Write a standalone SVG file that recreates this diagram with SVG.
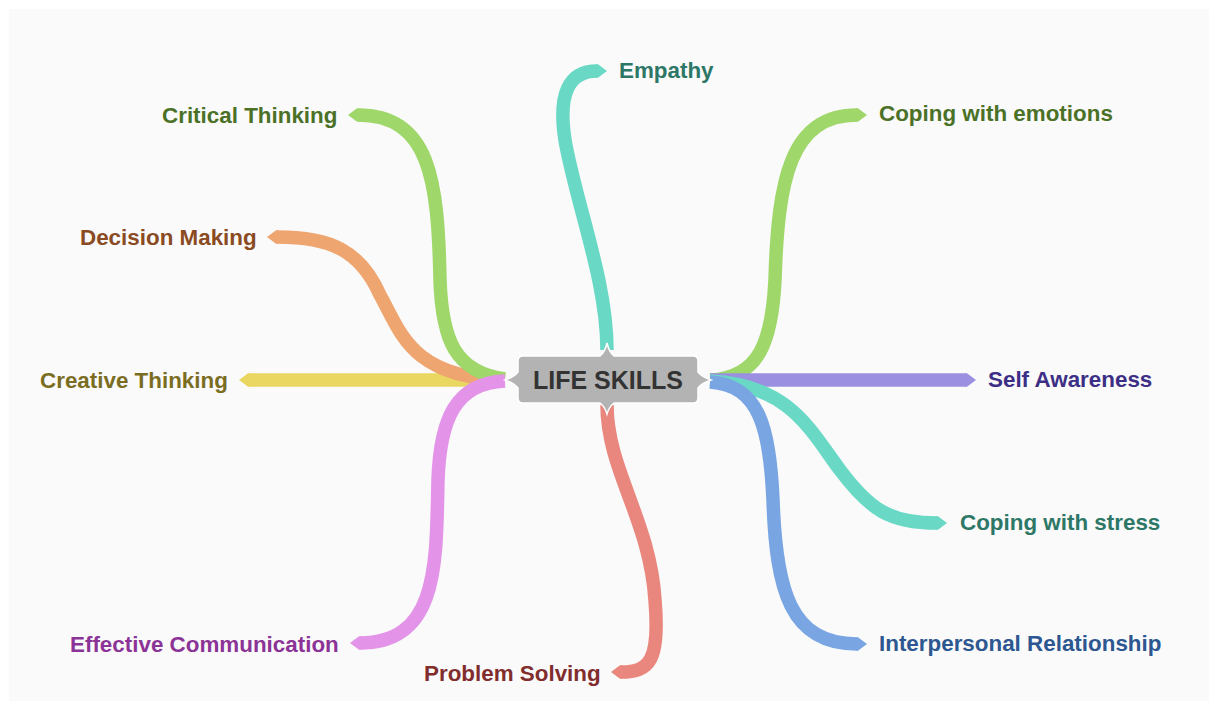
<svg xmlns="http://www.w3.org/2000/svg" width="1212" height="704" viewBox="0 0 1212 704">
<style>
.br{fill:none;stroke-width:13.5;stroke-linecap:butt;stroke-linejoin:round}
.lb{font-family:"Liberation Sans",Arial,Helvetica,sans-serif;font-weight:bold;font-size:22.4px}
</style>
<defs>
<marker id="tY" viewBox="0 0 12 14" markerWidth="12" markerHeight="14" refX="1" refY="7" orient="auto" markerUnits="userSpaceOnUse"><path d="M0,0.25H2L11,7L2,13.75H0Z" fill="#e9d761"/></marker>
<marker id="tO" viewBox="0 0 12 14" markerWidth="12" markerHeight="14" refX="1" refY="7" orient="auto" markerUnits="userSpaceOnUse"><path d="M0,0.25H2L11,7L2,13.75H0Z" fill="#efa56f"/></marker>
<marker id="tG" viewBox="0 0 12 14" markerWidth="12" markerHeight="14" refX="1" refY="7" orient="auto" markerUnits="userSpaceOnUse"><path d="M0,0.25H2L11,7L2,13.75H0Z" fill="#9fd76b"/></marker>
<marker id="tT" viewBox="0 0 12 14" markerWidth="12" markerHeight="14" refX="1" refY="7" orient="auto" markerUnits="userSpaceOnUse"><path d="M0,0.25H2L11,7L2,13.75H0Z" fill="#69d9c5"/></marker>
<marker id="tP" viewBox="0 0 12 14" markerWidth="12" markerHeight="14" refX="1" refY="7" orient="auto" markerUnits="userSpaceOnUse"><path d="M0,0.25H2L11,7L2,13.75H0Z" fill="#e394e9"/></marker>
<marker id="tR" viewBox="0 0 12 14" markerWidth="12" markerHeight="14" refX="1" refY="7" orient="auto" markerUnits="userSpaceOnUse"><path d="M0,0.25H2L11,7L2,13.75H0Z" fill="#e9877e"/></marker>
<marker id="tV" viewBox="0 0 12 14" markerWidth="12" markerHeight="14" refX="1" refY="7" orient="auto" markerUnits="userSpaceOnUse"><path d="M0,0.25H2L11,7L2,13.75H0Z" fill="#9b8fe2"/></marker>
<marker id="tB" viewBox="0 0 12 14" markerWidth="12" markerHeight="14" refX="1" refY="7" orient="auto" markerUnits="userSpaceOnUse"><path d="M0,0.25H2L11,7L2,13.75H0Z" fill="#79a5e3"/></marker>
</defs>
<rect x="0" y="0" width="1212" height="704" fill="#ffffff"/>
<rect x="9" y="9" width="1200" height="692" fill="#fafafa"/>
<g id="connectors">
<path class="br" stroke="#e9d761" marker-end="url(#tY)" d="M505 380 L249 380"/>
<path class="br" stroke="#efa56f" marker-end="url(#tO)" d="M505 380 C410 378,400 330,380 295 C360 250,330 237,277 237"/>
<path class="br" stroke="#9fd76b" marker-end="url(#tG)" d="M505 379 C455 372,442 340,440 280 C438 180,430 115,358 115"/>
<path class="br" stroke="#e394e9" marker-end="url(#tP)" d="M505 381 C455 383,440 420,438 480 C436 560,440 643,360 643"/>
<path class="br" stroke="#e9877e" marker-end="url(#tR)" d="M607 405 C607 470,650 520,655 600 C660 660,650 672,621 672"/>
<path class="br" stroke="#69d9c5" marker-end="url(#tT)" d="M607 350 C607 280,575 200,565 140 C558 95,568 71,597 71"/>
<path class="br" stroke="#9fd76b" marker-end="url(#tG)" d="M710 380 C760 378,772 340,775 280 C778 180,790 115,857 115"/>
<path class="br" stroke="#9b8fe2" marker-end="url(#tV)" d="M710 380 L966 380"/>
<path class="br" stroke="#69d9c5" marker-end="url(#tT)" d="M710 381 C790 385,810 430,840 470 C870 510,890 523,937 523"/>
<path class="br" stroke="#79a5e3" marker-end="url(#tB)" d="M710 382 C760 385,770 430,773 500 C776 590,790 644,857 644"/>
</g>
<g id="center">
<path d="M523 356 H600 Q605 352 607 343 Q609 352 614 356 H693 Q698 356 698 361 V372 Q702 377 711 380 Q702 383 698 388 V398 Q698 403 693 403 H614 Q609 407 607 414 Q605 407 600 403 H523 Q518 403 518 398 V388 Q514 383 505 380 Q514 377 518 372 V361 Q518 356 523 356 Z" fill="#b3b3b3" stroke="#ffffff" stroke-width="1.5"/>
<text x="608" y="388.5" text-anchor="middle" font-family="'Liberation Sans',Arial,Helvetica,sans-serif" font-weight="bold" font-size="25" fill="#333333">LIFE SKILLS</text>
</g>
<g id="n-empathy"><text class="lb" x="619" y="78" fill="#2d7767">Empathy</text></g>
<g id="n-critical"><text class="lb" x="162" y="123" fill="#4b7127">Critical Thinking</text></g>
<g id="n-decision"><text class="lb" x="80" y="245" fill="#8a4a22">Decision Making</text></g>
<g id="n-creative"><text class="lb" x="40" y="388" fill="#7a6d22">Creative Thinking</text></g>
<g id="n-effective"><text class="lb" x="70" y="652" fill="#8c3397">Effective Communication</text></g>
<g id="n-problem"><text class="lb" x="424" y="681" fill="#822d2d">Problem Solving</text></g>
<g id="n-emotions"><text class="lb" x="879" y="121" fill="#4b7127">Coping with emotions</text></g>
<g id="n-self"><text class="lb" x="988" y="387" fill="#3c2f85">Self Awareness</text></g>
<g id="n-stress"><text class="lb" x="960" y="530" fill="#2d7767">Coping with stress</text></g>
<g id="n-interpersonal"><text class="lb" x="879" y="651" fill="#2d5790">Interpersonal Relationship</text></g>
</svg>
